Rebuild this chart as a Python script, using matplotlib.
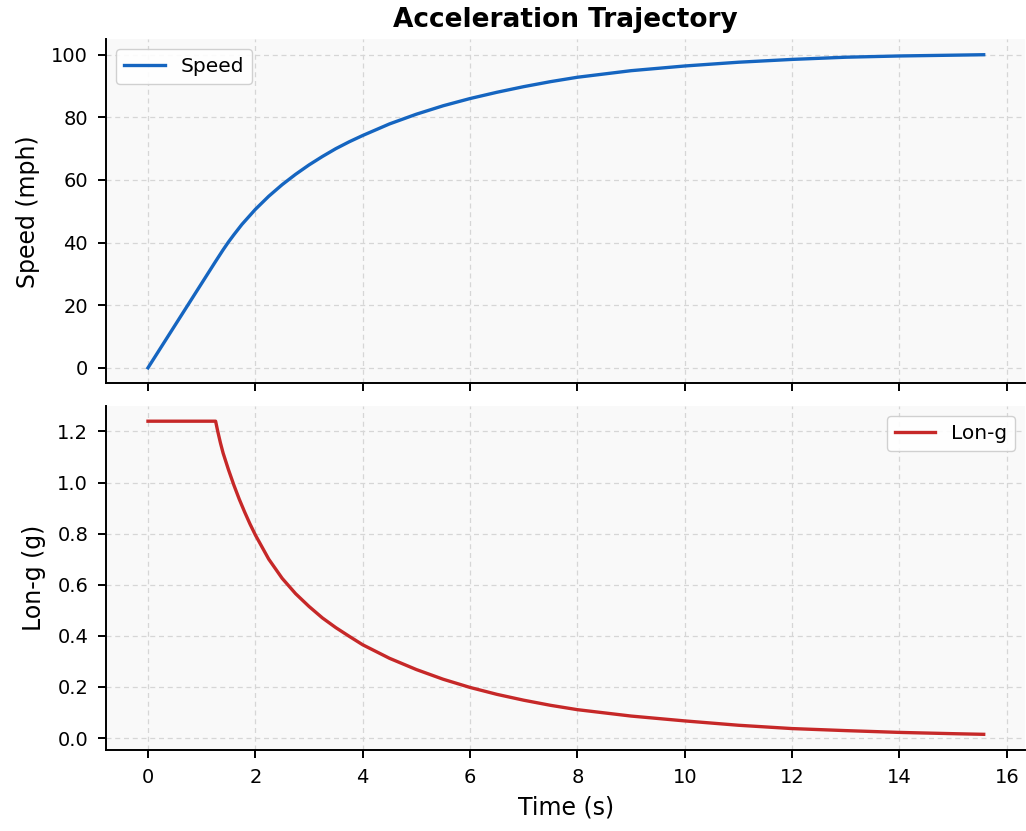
import matplotlib
matplotlib.use("Agg")
import matplotlib.pyplot as plt

# Speed trace
speed_t = [0.0, 1.26, 1.4, 1.5, 1.6, 1.75, 2.0, 2.25, 2.5, 2.75, 3.0, 3.25, 3.5,
           3.75, 4.0, 4.5, 5.0, 5.5, 6.0, 6.5, 7.0, 7.5, 8.0, 9.0, 10.0, 11.0,
           12.0, 13.0, 14.0, 15.0, 15.57]
speed_mph = [0.0, 34.0, 37.7, 40.2, 42.5, 45.8, 50.6, 54.8, 58.5, 61.8, 64.8,
             67.5, 70.0, 72.2, 74.2, 77.9, 81.0, 83.7, 86.0, 88.0, 89.8, 91.4,
             92.8, 94.9, 96.4, 97.6, 98.5, 99.2, 99.6, 99.85, 100.0]

# Longitudinal acceleration trace
long_t = [0.0, 1.26, 1.3, 1.35, 1.4, 1.5, 1.6, 1.7, 1.8, 1.9, 2.0, 2.25, 2.5,
          2.75, 3.0, 3.25, 3.5, 3.75, 4.0, 4.5, 5.0, 5.5, 6.0, 6.5, 7.0, 7.5,
          8.0, 9.0, 10.0, 11.0, 12.0, 13.0, 14.0, 15.0, 15.57]
long_g = [1.24, 1.24, 1.20, 1.155, 1.115, 1.05, 0.99, 0.935, 0.885, 0.838, 0.795,
          0.70, 0.625, 0.565, 0.515, 0.47, 0.432, 0.398, 0.365, 0.312, 0.268,
          0.23, 0.198, 0.171, 0.148, 0.128, 0.111, 0.086, 0.067, 0.050, 0.037,
          0.029, 0.022, 0.017, 0.0145]

BG = "#f9f9f9"
BLUE = "#1565c0"
RED = "#c62828"

fig, (ax1, ax2) = plt.subplots(2, 1, sharex=True, figsize=(10.26, 8.31), dpi=100)
fig.subplots_adjust(left=0.1035, right=0.9995, top=0.953, bottom=0.0975, hspace=0.064)

ax1.plot(speed_t, speed_mph, color=BLUE, lw=2.4, label="Speed")
ax2.plot(long_t, long_g, color=RED, lw=2.4, label="Lon-g")

for ax in (ax1, ax2):
    ax.set_facecolor(BG)
    ax.grid(True, linestyle=(0, (4, 3)), color="#d6d6d6", linewidth=0.9)
    ax.spines["top"].set_visible(False)
    ax.spines["right"].set_visible(False)
    ax.spines["left"].set_linewidth(1.4)
    ax.spines["bottom"].set_linewidth(1.4)
    ax.tick_params(labelsize=14, width=1.4, length=6, pad=7)

ax1.set_title("Acceleration Trajectory", fontsize=19, fontweight="bold", pad=9)
ax1.set_ylabel("Speed (mph)", fontsize=17, labelpad=8)
ax2.set_ylabel("Lon-g (g)", fontsize=17, labelpad=8)
ax2.set_xlabel("Time (s)", fontsize=17, labelpad=6)

ax1.legend(loc="upper left", fontsize=14.5, framealpha=0.9)
ax2.legend(loc="upper right", fontsize=14.5, framealpha=0.9)

fig.savefig("out.png", dpi=100)
